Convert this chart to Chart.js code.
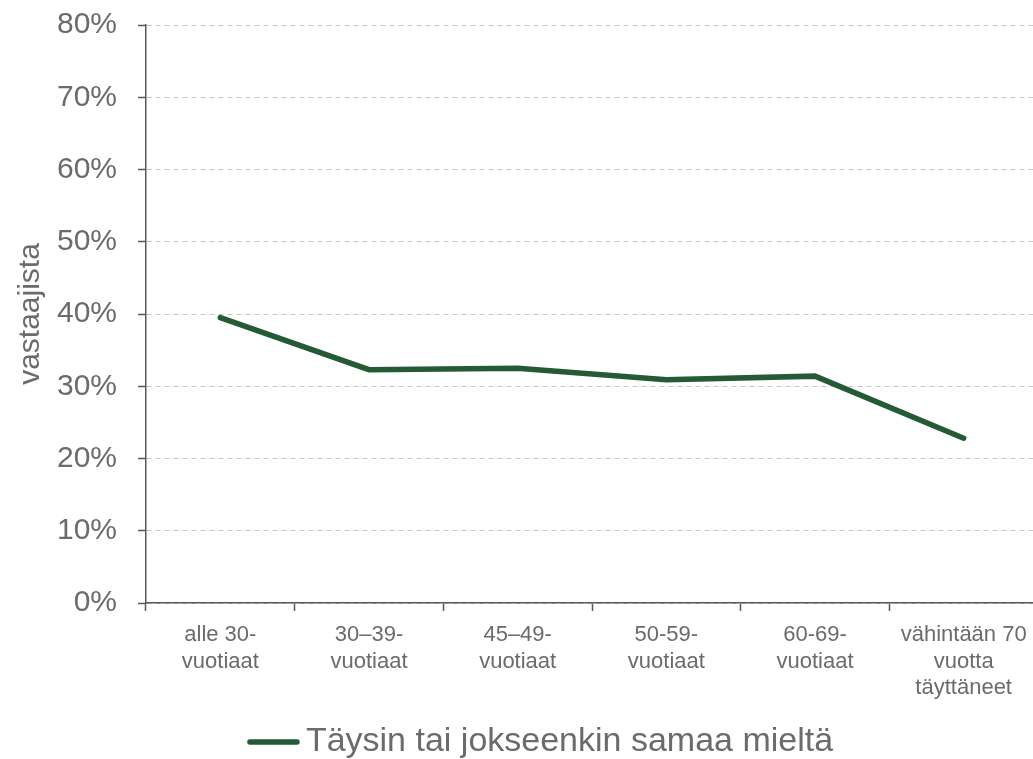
<!DOCTYPE html>
<html>
<head>
<meta charset="utf-8">
<script src="https://cdn.jsdelivr.net/npm/chart.js@4/dist/chart.umd.min.js"></script>
<style>
  html, body { margin: 0; padding: 0; background: #fff; overflow: hidden; }
  .wrap { position: absolute; left: 0; top: 0; width: 1038px; height: 759px; }
</style>
</head>
<body>
<div class="wrap"><canvas id="ageChart"></canvas></div>
<script>
// data
const ageGroups = [
  ['alle 30-', 'vuotiaat'],
  ['30–39-', 'vuotiaat'],
  ['45–49-', 'vuotiaat'],
  ['50-59-', 'vuotiaat'],
  ['60-69-', 'vuotiaat'],
  ['vähintään 70', 'vuotta', 'täyttäneet']
];
const agreeShare = [39.5, 32.3, 32.5, 30.9, 31.4, 22.8];
const seriesName = 'Täysin tai jokseenkin samaa mieltä';
const yTitle = 'vastaajista';

const lineGreen = '#245a35';
const textGrey = '#6b6b6b';
const axisGrey = '#595959';
const fontFamily = 'Liberation Sans, Arial, sans-serif';

// legend marker: a short thick line, drawn a bit closer to the text than chart.js does
const legendMark = document.createElement('canvas');
legendMark.width = 70;
legendMark.height = 10;
const lm = legendMark.getContext('2d');
lm.strokeStyle = lineGreen;
lm.lineWidth = 5.5;
lm.lineCap = 'round';
lm.beginPath();
lm.moveTo(16, 5);
lm.lineTo(63, 5);
lm.stroke();

// move the legend a bit right and down, like the original
const legendShift = {
  id: 'legendShift',
  afterLayout(chart) {
    chart.legend.left += 22;
    chart.legend.right += 22;
    chart.legend.top += 10;
    chart.legend.bottom += 10;
  }
};

const ctx = document.querySelector('#ageChart').getContext('2d');
const ageChart = new Chart(ctx, {
  type: 'line',
  data: {
    labels: ageGroups,
    datasets: [{
      label: seriesName,
      data: agreeShare,
      borderColor: lineGreen,
      backgroundColor: lineGreen,
      borderWidth: 5.5,
      borderCapStyle: 'round',
      borderJoinStyle: 'miter',
      pointRadius: 0,
      tension: 0
    }]
  },
  options: {
    responsive: true,
    maintainAspectRatio: false,
    animation: false,
    layout: { padding: { left: 0, right: 0, top: 25, bottom: 0 } },
    plugins: {
      legend: {
        display: true,
        position: 'bottom',
        labels: {
          usePointStyle: true,
          pointStyle: legendMark,
          pointStyleWidth: 40,
          boxHeight: 10,
          color: textGrey,
          font: { family: fontFamily, size: 34 },
          padding: 8
        }
      },
      tooltip: { enabled: false }
    },
    scales: {
      x: {
        offset: true,
        grid: {
          offset: true,
          drawOnChartArea: false,
          drawTicks: true,
          tickLength: 8,
          tickColor: axisGrey,
          tickWidth: 1.5
        },
        border: { color: axisGrey, width: 1.5 },
        ticks: {
          color: textGrey,
          font: { family: fontFamily, size: 22 },
          maxRotation: 0,
          autoSkip: false,
          padding: 11
        },
        afterFit(scale) { scale.height = 104; }
      },
      y: {
        min: 0,
        max: 80,
        grid: {
          color: '#c6c6c6',
          lineWidth: 1,
          tickLength: 8,
          tickColor: axisGrey,
          tickWidth: 1.5
        },
        border: { color: axisGrey, width: 1.5, dash: [5, 4] },
        ticks: {
          stepSize: 10,
          color: textGrey,
          font: { family: fontFamily, size: 30 },
          padding: 21,
          callback: (v) => v + '%'
        },
        title: {
          display: true,
          text: yTitle,
          color: textGrey,
          font: { family: fontFamily, size: 30 },
          padding: { top: 13, bottom: 0 }
        },
        afterFit(scale) {
          scale.width = 146;
          scale.paddingTop = 0;
          scale.paddingBottom = 0;
        }
      }
    }
  },
  plugins: [legendShift]
});
</script>
</body>
</html>
